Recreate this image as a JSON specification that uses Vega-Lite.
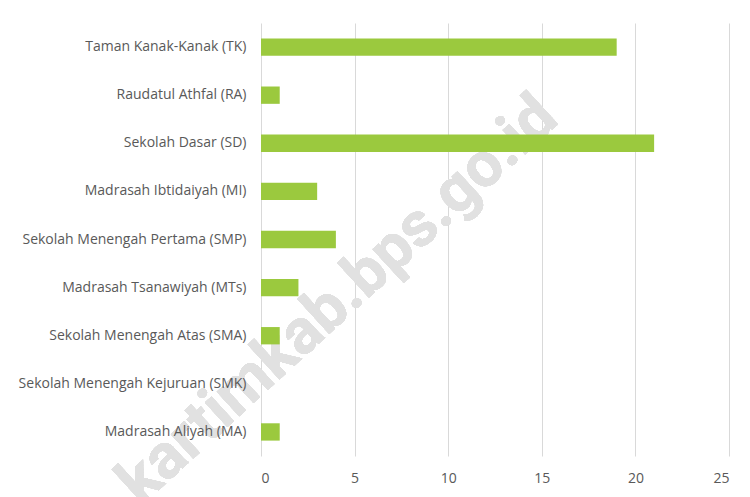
{
  "$schema": "https://vega.github.io/schema/vega-lite/v6.json",
  "autosize": "none",
  "padding": {"left": 261, "top": 23, "right": 21, "bottom": 41},
  "width": 468,
  "height": 433,
  "background": "white",
  "config": {
    "view": {"stroke": null},
    "font": "Open Sans",
    "axis": {"labelFont": "Open Sans", "labelColor": "#595959", "labelFontSize": 14}
  },
  "data": {
    "values": [
      {"jenjang": "Taman Kanak-Kanak (TK)", "jumlah": 19},
      {"jenjang": "Raudatul Athfal (RA)", "jumlah": 1},
      {"jenjang": "Sekolah Dasar (SD)", "jumlah": 21},
      {"jenjang": "Madrasah Ibtidaiyah (MI)", "jumlah": 3},
      {"jenjang": "Sekolah Menengah Pertama (SMP)", "jumlah": 4},
      {"jenjang": "Madrasah Tsanawiyah (MTs)", "jumlah": 2},
      {"jenjang": "Sekolah Menengah Atas (SMA)", "jumlah": 1},
      {"jenjang": "Sekolah Menengah Kejuruan (SMK)", "jumlah": 0},
      {"jenjang": "Madrasah Aliyah (MA)", "jumlah": 1}
    ]
  },
  "layer": [
    {
      "mark": {"type": "text", "text": "kartimkab.bps.go.id", "font": "Roboto", "fontWeight": "bold", "fontSize": 63, "angle": 317.5, "align": "center", "baseline": "middle", "dy": 17},
      "encoding": {
        "x": {"datum": 3.5},
        "y": {"datum": "Madrasah Tsanawiyah (MTs)"},
        "color": {"value": "#e1e1e1"}
      }
    },
    {
      "mark": {"type": "bar", "color": "#9BC93E"},
      "encoding": {
        "y": {
          "field": "jenjang", "type": "nominal", "sort": null, "title": null,
          "scale": {
            "domain": ["Taman Kanak-Kanak (TK)", "Raudatul Athfal (RA)", "Sekolah Dasar (SD)", "Madrasah Ibtidaiyah (MI)", "Sekolah Menengah Pertama (SMP)", "Madrasah Tsanawiyah (MTs)", "Sekolah Menengah Atas (SMA)", "Sekolah Menengah Kejuruan (SMK)", "Madrasah Aliyah (MA)"],
            "paddingInner": 0.64, "paddingOuter": 0.32
          },
          "axis": {"ticks": false, "domain": false, "labelPadding": 15, "labelLimit": 300, "zindex": 1}
        },
        "x": {
          "field": "jumlah", "type": "quantitative", "title": null,
          "scale": {"domain": [0, 25], "nice": false},
          "axis": {"values": [0, 5, 10, 15, 20, 25], "ticks": false, "domain": false, "grid": true, "gridColor": "#d9d9d9", "gridWidth": 1, "labelPadding": 15}
        }
      }
    }
  ]
}
